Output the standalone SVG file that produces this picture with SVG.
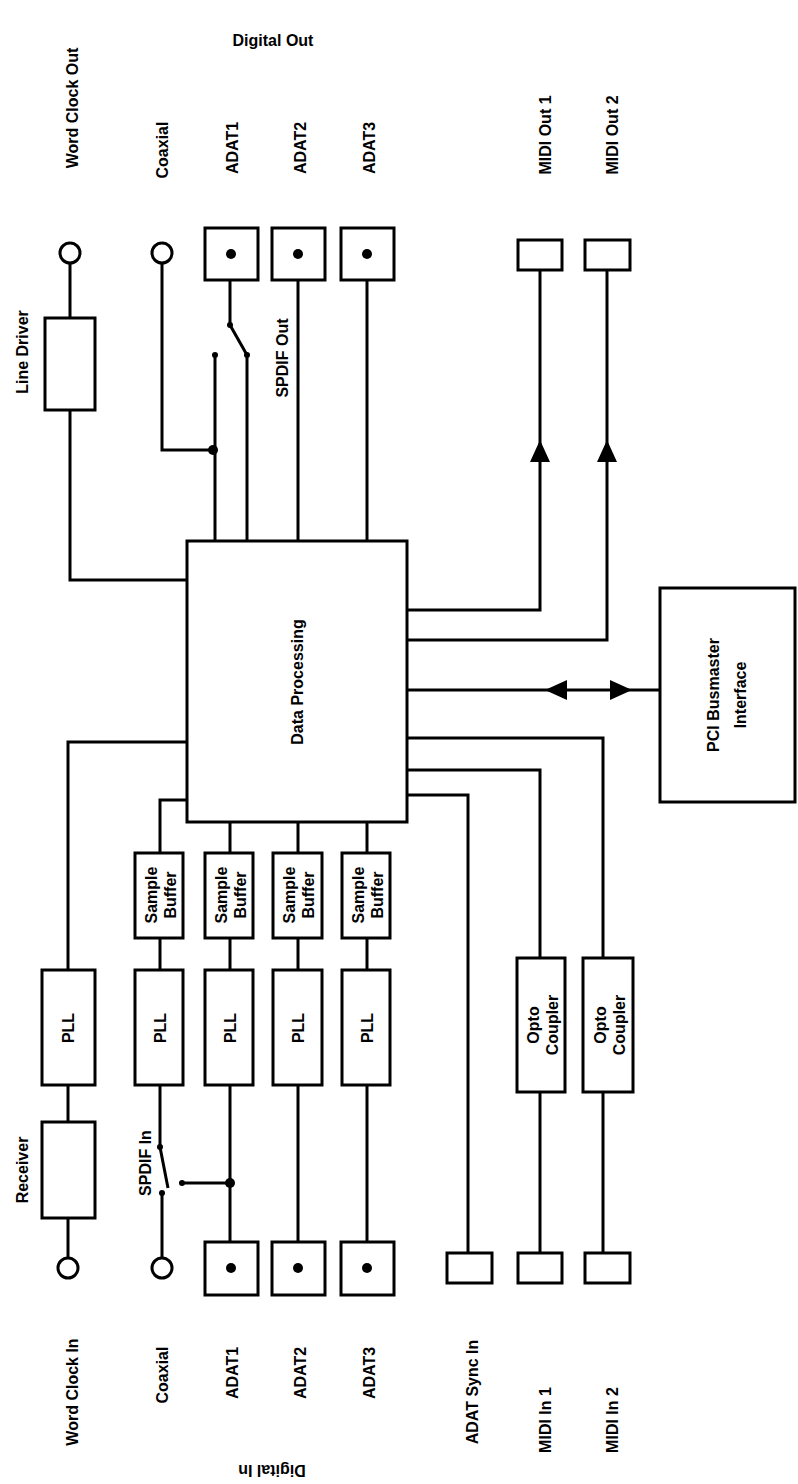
<svg xmlns="http://www.w3.org/2000/svg" width="798" height="1484" viewBox="0 0 798 1484">
<style>
.b{fill:#fff;stroke:#000;stroke-width:3}
.l{fill:none;stroke:#000;stroke-width:3}
.t{font-family:"Liberation Sans",Arial,sans-serif;font-weight:bold;font-size:16px;fill:#000;text-anchor:middle;dominant-baseline:central}
</style>
<g id="connectors">
<path class="l" d="M70,263V318M70,410V580H187"/>
<path class="l" d="M162,263V450H213M215,355V541M247,355V541M230,280V325L247,355M298,280V541M367,280V541"/>
<path class="l" d="M540,270V610H407M607,270V640H407"/>
<path d="M540,440l-10,22h20zM607,440l-10,22h20z"/>
<path class="l" d="M407,690H660"/>
<path d="M545,690l22,-10v20zM632,690l-22,-10v20z"/>
<path class="l" d="M407,738H603V958M407,770H540V958M407,795H468V1253M540,1092V1253M603,1092V1253"/>
<path class="l" d="M187,742H68V970M68,1085V1122M68,1218V1258"/>
<path class="l" d="M187,800H160V853M230,822V853M298,822V853M367,822V853M160,938V970M230,938V970M298,938V970M367,938V970"/>
<path class="l" d="M160,1085V1147L168,1188M162,1193V1258M182,1183H230M230,1085V1242M298,1085V1242M367,1085V1242"/>
<circle cx="213" cy="450" r="5"/><circle cx="230" cy="1183" r="5"/>
<circle cx="230" cy="325" r="3"/><circle cx="247" cy="355" r="3"/><circle cx="215" cy="355" r="3"/>
<circle cx="160" cy="1147" r="3"/><circle cx="162" cy="1193" r="3"/><circle cx="182" cy="1183" r="3"/>
</g>
<g id="wco"><circle class="b" cx="70" cy="253" r="10"/></g>
<g id="coaxout"><circle class="b" cx="162" cy="253" r="10"/></g>
<g id="linedriver"><rect class="b" x="45" y="318" width="50" height="92"/></g>
<g id="adat1out"><rect class="b" x="205" y="228" width="53" height="52"/><circle cx="231" cy="254" r="5"/></g>
<g id="adat2out"><rect class="b" x="272" y="228" width="53" height="52"/><circle cx="298" cy="254" r="5"/></g>
<g id="adat3out"><rect class="b" x="341" y="228" width="53" height="52"/><circle cx="367" cy="254" r="5"/></g>
<g id="midiout1"><rect class="b" x="518" y="240" width="44" height="30"/></g>
<g id="midiout2"><rect class="b" x="585" y="240" width="45" height="30"/></g>
<g id="dp"><rect class="b" x="187" y="541" width="220" height="281"/><text class="t" transform="translate(297,682) rotate(-90)">Data Processing</text></g>
<g id="pci"><rect class="b" x="660" y="588" width="135" height="214"/><text class="t" transform="translate(713,695) rotate(-90)">PCI Busmaster</text><text class="t" transform="translate(740,695) rotate(-90)">Interface</text></g>
<g id="sb1"><rect class="b" x="135" y="853" width="48" height="85"/><text class="t" transform="translate(151,895) rotate(-90)">Sample</text><text class="t" transform="translate(170,895) rotate(-90)">Buffer</text></g>
<g id="sb2"><rect class="b" x="205" y="853" width="48" height="85"/><text class="t" transform="translate(221,895) rotate(-90)">Sample</text><text class="t" transform="translate(240,895) rotate(-90)">Buffer</text></g>
<g id="sb3"><rect class="b" x="273" y="853" width="49" height="85"/><text class="t" transform="translate(289,895) rotate(-90)">Sample</text><text class="t" transform="translate(308,895) rotate(-90)">Buffer</text></g>
<g id="sb4"><rect class="b" x="342" y="853" width="48" height="85"/><text class="t" transform="translate(358,895) rotate(-90)">Sample</text><text class="t" transform="translate(377,895) rotate(-90)">Buffer</text></g>
<g id="pll0"><rect class="b" x="42" y="970" width="53" height="115"/><text class="t" transform="translate(68,1028) rotate(-90)">PLL</text></g>
<g id="pll1"><rect class="b" x="135" y="970" width="48" height="115"/><text class="t" transform="translate(160,1028) rotate(-90)">PLL</text></g>
<g id="pll2"><rect class="b" x="205" y="970" width="48" height="115"/><text class="t" transform="translate(230,1028) rotate(-90)">PLL</text></g>
<g id="pll3"><rect class="b" x="273" y="970" width="49" height="115"/><text class="t" transform="translate(298,1028) rotate(-90)">PLL</text></g>
<g id="pll4"><rect class="b" x="342" y="970" width="48" height="115"/><text class="t" transform="translate(367,1028) rotate(-90)">PLL</text></g>
<g id="opto1"><rect class="b" x="517" y="958" width="48" height="134"/><text class="t" transform="translate(533,1025) rotate(-90)">Opto</text><text class="t" transform="translate(552,1025) rotate(-90)">Coupler</text></g>
<g id="opto2"><rect class="b" x="583" y="958" width="50" height="134"/><text class="t" transform="translate(600,1025) rotate(-90)">Opto</text><text class="t" transform="translate(619,1025) rotate(-90)">Coupler</text></g>
<g id="receiver"><rect class="b" x="42" y="1122" width="53" height="96"/></g>
<g id="wci"><circle class="b" cx="68" cy="1268" r="10"/></g>
<g id="coaxin"><circle class="b" cx="162" cy="1268" r="10"/></g>
<g id="adat1in"><rect class="b" x="205" y="1242" width="53" height="53"/><circle cx="231" cy="1268" r="5"/></g>
<g id="adat2in"><rect class="b" x="272" y="1242" width="53" height="53"/><circle cx="298" cy="1268" r="5"/></g>
<g id="adat3in"><rect class="b" x="341" y="1242" width="53" height="53"/><circle cx="367" cy="1268" r="5"/></g>
<g id="adatsync"><rect class="b" x="447" y="1253" width="45" height="30"/></g>
<g id="midiin1"><rect class="b" x="518" y="1253" width="44" height="30"/></g>
<g id="midiin2"><rect class="b" x="585" y="1253" width="45" height="30"/></g>
<g id="labels">
<text class="t" transform="translate(72,108) rotate(-90)">Word Clock Out</text>
<text class="t" x="273" y="40">Digital Out</text>
<text class="t" transform="translate(162,150) rotate(-90)">Coaxial</text>
<text class="t" transform="translate(232,148) rotate(-90)">ADAT1</text>
<text class="t" transform="translate(300,148) rotate(-90)">ADAT2</text>
<text class="t" transform="translate(369,148) rotate(-90)">ADAT3</text>
<text class="t" transform="translate(22,352) rotate(-90)">Line Driver</text>
<text class="t" transform="translate(545,135) rotate(-90)">MIDI Out 1</text>
<text class="t" transform="translate(612,135) rotate(-90)">MIDI Out 2</text>
<text class="t" transform="translate(282,358) rotate(-90)">SPDIF Out</text>
<text class="t" transform="translate(22,1170) rotate(-90)">Receiver</text>
<text class="t" transform="translate(145,1163) rotate(-90)">SPDIF In</text>
<text class="t" transform="translate(72,1392) rotate(-90)">Word Clock In</text>
<text class="t" transform="translate(162,1375) rotate(-90)">Coaxial</text>
<text class="t" transform="translate(232,1373) rotate(-90)">ADAT1</text>
<text class="t" transform="translate(300,1373) rotate(-90)">ADAT2</text>
<text class="t" transform="translate(369,1373) rotate(-90)">ADAT3</text>
<text class="t" transform="translate(472,1392) rotate(-90)">ADAT Sync In</text>
<text class="t" transform="translate(545,1420) rotate(-90)">MIDI In 1</text>
<text class="t" transform="translate(612,1420) rotate(-90)">MIDI In 2</text>
<text class="t" transform="translate(272,1470) rotate(180)">Digital In</text>
</g>
</svg>
